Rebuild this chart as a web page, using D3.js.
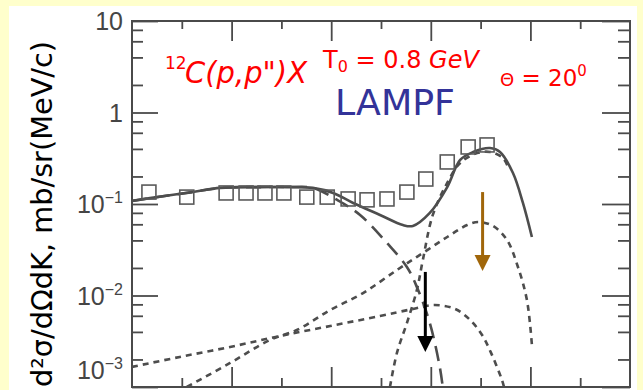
<!DOCTYPE html>
<html>
<head>
<meta charset="utf-8">
<script src="https://cdn.jsdelivr.net/npm/d3@7"></script>
<style>
  body { margin: 0; background: #ffffcc; }
  svg { display: block; }
</style>
</head>
<body>
<svg id="chart" width="643" height="390"></svg>
<script>
// x axis has no labels in the original, so it runs 0..10 in tick units
// y values are d2sigma/dOmega dK in mb/sr(MeV/c)

// open squares (data)
var dataX = [0.34, 1.10, 1.89, 2.29, 2.67, 3.05, 3.51, 3.92, 4.34, 4.72, 5.12, 5.52, 5.90, 6.33, 6.75, 7.13];
var dataY = [0.135, 0.119, 0.132, 0.132, 0.132, 0.132, 0.119, 0.119, 0.1135, 0.111, 0.1135, 0.135, 0.1875, 0.288, 0.42, 0.442];

// solid line (total)
var totalX = [0, 0.36, 1.22, 1.77, 2.57, 3.11, 3.63, 4.04, 4.44, 4.98, 5.44, 5.64, 5.98, 6.33, 6.59, 6.85, 7.19, 7.39, 7.65, 7.85, 8.03];
var totalY = [0.108, 0.116, 0.135, 0.150, 0.153, 0.153, 0.150, 0.132, 0.1026, 0.0759, 0.0589, 0.0575, 0.0798, 0.153, 0.303, 0.370, 0.409, 0.370, 0.218, 0.1026, 0.0436];

// long dashes
var longX = [0, 0.36, 1.22, 1.77, 2.57, 3.11, 3.63, 4.12, 4.58, 5.12, 5.52, 5.72, 5.98, 6.18, 6.24];
var longY = [0.108, 0.116, 0.135, 0.150, 0.153, 0.153, 0.150, 0.1107, 0.0759, 0.0375, 0.0205, 0.0124, 0.0050, 0.00166, 0.001];

// short dashes: big peak
var peakX = [5.18, 5.32, 5.52, 5.72, 5.84, 6.04, 6.33, 6.59, 6.93, 7.19, 7.45, 7.55];
var peakY = [0.001, 0.00236, 0.0050, 0.01148, 0.0244, 0.0759, 0.170, 0.281, 0.360, 0.370, 0.318, 0.254];

// short dashes: middle bump
var midX = [1.10, 1.97, 2.77, 3.31, 3.98, 4.64, 5.32, 5.84, 6.33, 6.73, 6.95, 7.25, 7.53, 7.75, 7.93, 8.03];
var midY = [0.001, 0.00183, 0.00327, 0.0042, 0.00695, 0.01064, 0.0190, 0.0291, 0.0436, 0.0589, 0.0635, 0.0575, 0.0405, 0.0205, 0.00893, 0.0029];

// short dashes: low bump
var lowX = [0, 0.96, 1.97, 2.97, 3.98, 4.98, 5.64, 6.08, 6.49, 6.79, 7.03, 7.21, 7.43, 7.47];
var lowY = [0.00166, 0.00213, 0.00274, 0.00361, 0.00464, 0.00597, 0.00712, 0.00787, 0.00712, 0.0054, 0.0037, 0.00236, 0.00119, 0.001];

// arrows [x, yFrom, yTo]
var brownArrow = [7.04, 0.135, 0.0185];
var blackArrow = [5.89, 0.0181, 0.00242];

var xTicks = d3.range(1, 10);
var yMajor = [0.001, 0.01, 0.1, 1, 10];
var yMinor = [];
[0.001, 0.01, 0.1, 1].forEach(function(d) {
  [2, 4, 6, 8].forEach(function(m) { yMinor.push(d * m); });
});
var yExp = ["-3", "-2", "-1", "", ""];

var svg = d3.select("#chart");

var pLeft = 132, pRight = 630, pTop = 21, pBottom = 387;
var x = d3.scaleLinear().domain([0, 10]).range([pLeft, pRight]);
var y = d3.scaleLog().domain([0.001, 10]).range([pBottom, pTop]);

// white sheet on the yellow page
svg.append("rect")
  .attr("x", 9).attr("y", 6)
  .attr("width", 628).attr("height", 390)
  .attr("fill", "#ffffff");

svg.append("defs").append("clipPath").attr("id", "clip")
  .append("rect")
  .attr("x", pLeft).attr("y", pTop)
  .attr("width", pRight - pLeft).attr("height", pBottom - pTop);

var tickColor = "#4a4a4a";

function styleAxis(g) {
  g.select(".domain").remove();
  g.selectAll(".tick line").attr("stroke", tickColor).attr("stroke-width", 1.8);
  g.selectAll(".tick text").remove();
}

// ticks, all pointing inwards
svg.append("g").attr("transform", "translate(" + pLeft + ",0)")
  .call(d3.axisLeft(y).tickValues(yMajor).tickSize(-26)).call(styleAxis);
svg.append("g").attr("transform", "translate(" + pLeft + ",0)")
  .call(d3.axisLeft(y).tickValues(yMinor).tickSize(-11)).call(styleAxis);
svg.append("g").attr("transform", "translate(" + pRight + ",0)")
  .call(d3.axisRight(y).tickValues(yMajor).tickSize(-28)).call(styleAxis);
svg.append("g").attr("transform", "translate(" + pRight + ",0)")
  .call(d3.axisRight(y).tickValues(yMinor).tickSize(-12)).call(styleAxis);

var longTicks = xTicks.filter(function(d) { return d % 2 == 0; });
var shortTicks = xTicks.filter(function(d) { return d % 2 == 1; });
svg.append("g").attr("transform", "translate(0," + pBottom + ")")
  .call(d3.axisBottom(x).tickValues(longTicks).tickSize(-20)).call(styleAxis);
svg.append("g").attr("transform", "translate(0," + pBottom + ")")
  .call(d3.axisBottom(x).tickValues(shortTicks).tickSize(-9)).call(styleAxis);
svg.append("g").attr("transform", "translate(0," + pTop + ")")
  .call(d3.axisTop(x).tickValues(longTicks).tickSize(-20)).call(styleAxis);
svg.append("g").attr("transform", "translate(0," + pTop + ")")
  .call(d3.axisTop(x).tickValues(shortTicks).tickSize(-8)).call(styleAxis);

// frame
svg.append("rect")
  .attr("x", pLeft).attr("y", pTop)
  .attr("width", pRight - pLeft).attr("height", pBottom - pTop)
  .attr("fill", "none")
  .attr("stroke", tickColor)
  .attr("stroke-width", 2);

// y tick labels
var labels = svg.append("g")
  .attr("font-family", "Liberation Sans, Arial, sans-serif")
  .attr("fill", "#454545");
yMajor.forEach(function(v, i) {
  var yy = Math.min(y(v), pBottom - 17);
  var t = labels.append("text")
    .attr("x", 123).attr("y", yy + 9)
    .attr("text-anchor", "end")
    .attr("font-size", 25);
  t.append("tspan").text(v >= 1 ? String(v) : "10");
  if (yExp[i]) {
    t.append("tspan").attr("dy", -10).attr("font-size", 16).text(yExp[i].replace("-", "\u2212"));
  }
});

var plot = svg.append("g").attr("clip-path", "url(#clip)");

var line = d3.line()
  .x(function(d) { return x(d[0]); })
  .y(function(d) { return y(d[1]); })
  .curve(d3.curveCatmullRom.alpha(0.5));

var curveColor = "#4d4d4d";
function drawCurve(xs, ys, dash) {
  plot.append("path")
    .datum(d3.zip(xs, ys))
    .attr("d", line)
    .attr("fill", "none")
    .attr("stroke", curveColor)
    .attr("stroke-width", 2.6)
    .attr("stroke-dasharray", dash);
}
drawCurve(lowX, lowY, "6,5");
drawCurve(midX, midY, "6,5");
drawCurve(peakX, peakY, "6,5");
drawCurve(longX, longY, "15,8");
drawCurve(totalX, totalY, null);

plot.selectAll(".square")
  .data(d3.zip(dataX, dataY))
  .enter().append("rect")
  .attr("class", "square")
  .attr("x", function(d) { return x(d[0]) - 7; })
  .attr("y", function(d) { return y(d[1]) - 7; })
  .attr("width", 14)
  .attr("height", 14)
  .attr("fill", "none")
  .attr("stroke", "#5a5a5a")
  .attr("stroke-width", 1.6);

function drawArrow(a, color) {
  var ax = x(a[0]), y0 = y(a[1]), y1 = y(a[2]);
  svg.append("line")
    .attr("x1", ax).attr("x2", ax)
    .attr("y1", y0).attr("y2", y1 - 14)
    .attr("stroke", color)
    .attr("stroke-width", 3);
  svg.append("path")
    .attr("d", "M" + (ax - 8) + "," + (y1 - 16) + "L" + (ax + 8) + "," + (y1 - 16) + "L" + ax + "," + y1 + "Z")
    .attr("fill", color);
}
drawArrow(brownArrow, "#a0660a");
drawArrow(blackArrow, "#000000");

// annotations
var note = svg.append("g").attr("font-family", "DejaVu Sans, sans-serif");

note.append("text").attr("x", 165).attr("y", 69)
  .attr("font-size", 17).attr("fill", "#ff0000").text("12");
note.append("text").attr("x", 185).attr("y", 83)
  .attr("font-size", 30).attr("font-style", "italic").attr("fill", "#ff0000")
  .attr("textLength", 122).attr("lengthAdjust", "spacingAndGlyphs")
  .text("C(p,p\")X");

var t0 = note.append("text").attr("x", 323).attr("y", 68)
  .attr("font-size", 24).attr("fill", "#ff0000");
t0.append("tspan").text("T");
t0.append("tspan").attr("font-size", 16).attr("dy", 4).text("0");
t0.append("tspan").attr("dy", -4).text(" = 0.8 ");
t0.append("tspan").attr("font-style", "italic").text("GeV");

note.append("text").attr("x", 335).attr("y", 115)
  .attr("font-size", 36).attr("fill", "#333399")
  .attr("textLength", 120).attr("lengthAdjust", "spacingAndGlyphs")
  .text("LAMPF");

var th = note.append("text").attr("x", 500).attr("y", 86)
  .attr("font-size", 23).attr("fill", "#ff0000");
th.append("tspan").attr("font-size", 18).text("\u0398");
th.append("tspan").text(" = 20");
th.append("tspan").attr("font-size", 15).attr("dy", -10).text("0");

// y axis title
svg.append("text")
  .attr("transform", "translate(52,214) rotate(-90)")
  .attr("text-anchor", "middle")
  .attr("font-family", "DejaVu Sans, sans-serif")
  .attr("font-size", 28)
  .attr("fill", "#000000")
  .attr("textLength", 346)
  .attr("lengthAdjust", "spacingAndGlyphs")
  .text("d\u00b2\u03c3/d\u03a9dK, mb/sr(MeV/c)");
</script>
</body>
</html>
